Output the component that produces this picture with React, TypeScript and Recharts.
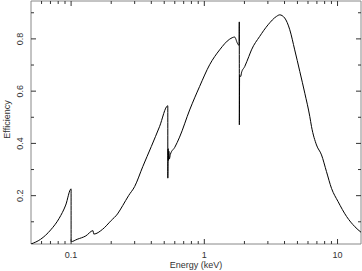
import { LineChart, Line, XAxis, YAxis, ReferenceArea } from 'recharts';

// energy in keV (pairs at the same energy are the absorption edges)
const energy = [
  0.05, 0.059, 0.0703, 0.0813, 0.0911, 0.1, 0.1, 0.111, 0.129, 0.146, 0.148, 0.172,
  0.2, 0.223, 0.244, 0.27, 0.3, 0.345, 0.4, 0.461, 0.532, 0.532, 0.535, 0.538, 0.542,
  0.546, 0.556, 0.6, 0.652, 0.776, 0.922, 1.096, 1.303, 1.55, 1.69, 1.77, 1.825, 1.83,
  1.832, 1.84, 1.875, 1.9, 2.01, 2.16, 2.26, 2.6, 3.01, 3.48, 3.68, 4.01, 4.38, 4.77,
  5.21, 5.68, 6.19, 6.38, 6.95, 7.58, 8.26, 9.01, 10.1, 11.7, 13.5, 15,
];
const efficiency = [
  0.015, 0.033, 0.069, 0.113, 0.164, 0.226, 0.024, 0.033, 0.046, 0.066, 0.053, 0.071,
  0.105, 0.13, 0.162, 0.2, 0.235, 0.311, 0.388, 0.464, 0.544, 0.267, 0.38, 0.335, 0.37,
  0.34, 0.358, 0.385, 0.424, 0.528, 0.618, 0.701, 0.758, 0.799, 0.807, 0.784, 0.775, 0.865,
  0.471, 0.66, 0.656, 0.67, 0.694, 0.733, 0.758, 0.809, 0.854, 0.886, 0.892, 0.88, 0.835, 0.758,
  0.675, 0.592, 0.503, 0.464, 0.394, 0.356, 0.292, 0.228, 0.177, 0.12, 0.081, 0.06,
];

const xMajor = [0.1, 1, 10];
const xTicks = [0.06, 0.07, 0.08, 0.09, 0.1, 0.2, 0.3, 0.4, 0.5, 0.6, 0.7, 0.8, 0.9, 1, 2, 3, 4, 5, 6, 7, 8, 9, 10];
const yMajor = [0.2, 0.4, 0.6, 0.8];
const yTicks = [0.1, 0.2, 0.3, 0.4, 0.5, 0.6, 0.7, 0.8, 0.9];

const data = energy.map((e, i) => ({ energy: e, eff: efficiency[i] }));

const W = 362;
const H = 271;
const TOP = 1;
const RIGHT = 361;
const font = '"Liberation Sans", Arial, sans-serif';
const ink = '#333';

function XTick({ x, y, payload }: any) {
  const major = xMajor.includes(payload.value);
  const len = major ? 5 : 3;
  return (
    <g>
      <line x1={x} x2={x} y1={y} y2={y - len} stroke={ink} />
      <line x1={x} x2={x} y1={TOP} y2={TOP + len} stroke={ink} />
      {major && (
        <text x={x} y={y + 14} textAnchor="middle" fontSize={9} fontFamily={font} fill={ink}>
          {payload.value}
        </text>
      )}
    </g>
  );
}

function YTick({ x, y, payload }: any) {
  const major = yMajor.includes(payload.value);
  const len = major ? 5 : 3;
  return (
    <g>
      <line x1={x} x2={x + len} y1={y} y2={y} stroke={ink} />
      <line x1={RIGHT} x2={RIGHT - len} y1={y} y2={y} stroke={ink} />
      {major && (
        <text
          x={20}
          y={y}
          transform={`rotate(-90 20 ${y})`}
          textAnchor="middle"
          dominantBaseline="central"
          fontSize={9}
          fontFamily={font}
          fill={ink}
        >
          {payload.value}
        </text>
      )}
    </g>
  );
}

function YLabel({ viewBox }: any) {
  const cy = viewBox.y + viewBox.height / 2 - 3;
  return (
    <text x={7} y={cy} transform={`rotate(-90 7 ${cy})`} textAnchor="middle" dominantBaseline="central"
      fontSize={9} fontFamily={font} fill={ink}>
      Efficiency
    </text>
  );
}

function XLabel({ viewBox }: any) {
  const cx = viewBox.x + viewBox.width / 2;
  return (
    <text x={cx} y={268} textAnchor="middle" fontSize={9} fontFamily={font} fill={ink}>
      Energy (keV)
    </text>
  );
}

export default function App() {
  return (
    <div style={{ position: 'absolute', left: 0, top: 0, width: W, height: H, background: '#fff' }}>
      <LineChart width={W} height={H} data={data} margin={{ top: TOP, right: 1, left: 0, bottom: 0 }}>
        <XAxis
          dataKey="energy"
          type="number"
          scale="log"
          domain={[0.05, 15]}
          allowDataOverflow
          ticks={xTicks}
          interval={0}
          tickSize={0}
          tickMargin={0}
          axisLine={false}
          tickLine={false}
          tick={<XTick />}
          height={27}
          label={<XLabel />}
        />
        <YAxis
          type="number"
          domain={[0.015, 0.945]}
          allowDataOverflow
          ticks={yTicks}
          interval={0}
          tickSize={0}
          tickMargin={0}
          axisLine={false}
          tickLine={false}
          tick={<YTick />}
          width={31}
          label={<YLabel />}
        />
        <ReferenceArea x1={0.05} x2={15} y1={0.015} y2={0.945} fill="none" stroke="#888" strokeWidth={1} />
        <Line
          type="monotoneX"
          dataKey="eff"
          stroke="#000"
          strokeWidth={1}
          dot={false}
          isAnimationActive={false}
        />
      </LineChart>
    </div>
  );
}
